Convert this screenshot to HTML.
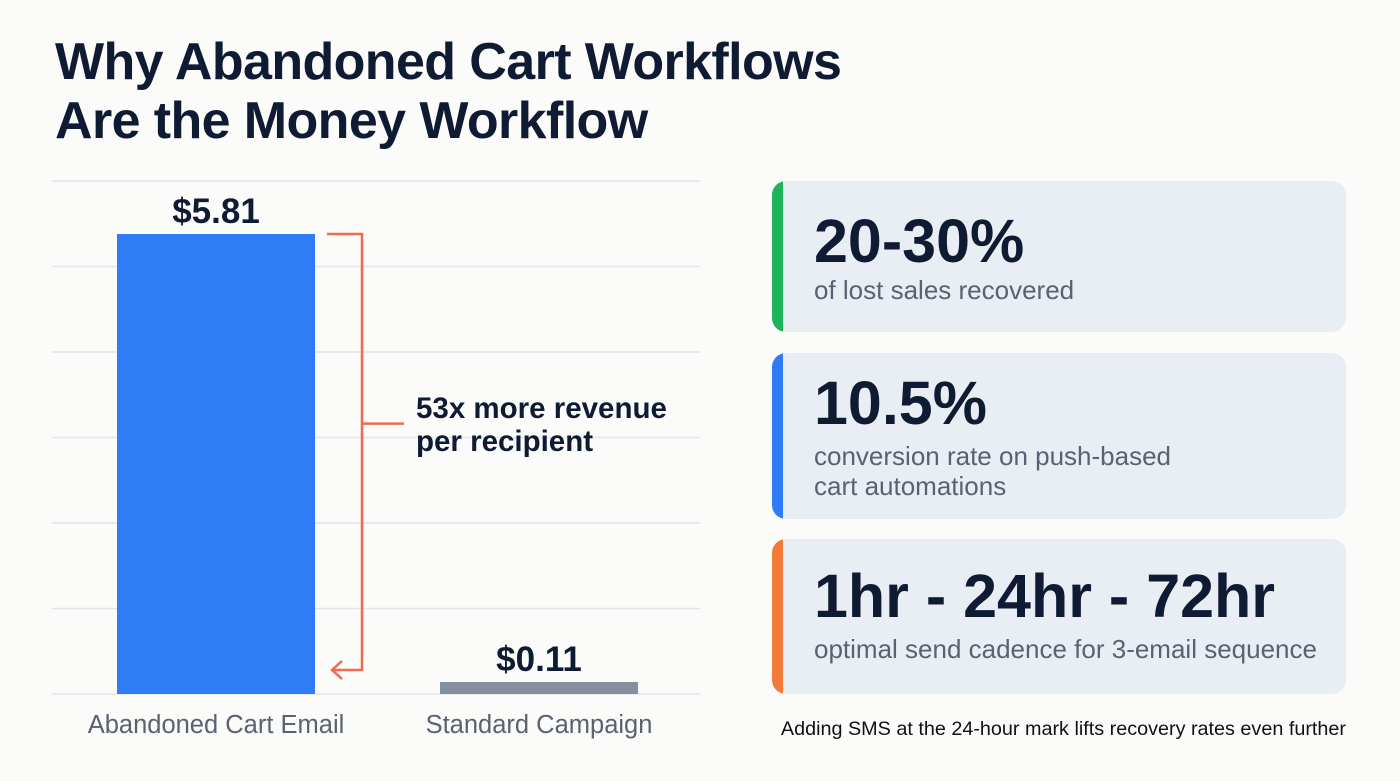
<!DOCTYPE html>
<html><head><meta charset="utf-8"><style>
body{margin:0;width:1400px;height:781px;background:#fbfbfa;font-family:"Liberation Sans",sans-serif;overflow:hidden;position:relative}
h1{position:absolute;left:55px;top:33px;margin:0;font-size:52px;line-height:59px;font-weight:bold;color:#0f1a33;letter-spacing:-0.6px}
.card{position:absolute;left:772px;width:574px;background:#e9edf4;border-radius:14px;overflow:hidden}
.card .stripe{position:absolute;left:0;top:0;bottom:0;width:11px}
.card .big{position:absolute;left:42px;font-size:61px;font-weight:bold;color:#0f1a33;letter-spacing:0px}
.card .sub{position:absolute;left:42px;font-size:26px;color:#5a6170;line-height:30px}
.foot{position:absolute;right:54px;top:718px;font-size:19.8px;color:#111}
</style></head><body>
<h1>Why Abandoned Cart Workflows<br>Are the Money Workflow</h1>
<svg id="chart" width="760" height="781" style="position:absolute;left:0;top:0"></svg>
<div class="card" style="top:181px;height:151px"><div class="stripe" style="background:#1fb35a"></div><div class="big" style="top:25px">20-30%</div><div class="sub" style="top:94px">of lost sales recovered</div></div>
<div class="card" style="top:353px;height:166px"><div class="stripe" style="background:#2f7cf6"></div><div class="big" style="top:15px">10.5%</div><div class="sub" style="top:88px">conversion rate on push-based<br>cart automations</div></div>
<div class="card" style="top:539px;height:155px"><div class="stripe" style="background:#f47a3a"></div><div class="big" style="top:22px">1hr - 24hr - 72hr</div><div class="sub" style="top:95px">optimal send cadence for 3-email sequence</div></div>
<div class="foot">Adding SMS at the 24-hour mark lifts recovery rates even further</div>
<script>
const categories=["Abandoned Cart Email","Standard Campaign"];
const values=[5.81,0.11];
const valueLabels=["$5.81","$0.11"];
const colors=["#2f7cf6","#858fa0"];
const yMax=6.48, gridCount=6;
const NS="http://www.w3.org/2000/svg";
const svg=document.getElementById('chart');
const x0=52,x1=700,yBase=694,yTop=181;
const y=v=>yBase-(v/yMax)*(yBase-yTop);
const bandX=i=>117+i*323, bw=198;
function mk(t,a){const e=document.createElementNS(NS,t);for(const k in a)e.setAttribute(k,a[k]);svg.appendChild(e);return e;}
for(let i=0;i<=gridCount;i++){const gy=y(yMax*i/gridCount);
const g=mk('line',{x1:x0,x2:x1,y1:gy,y2:gy,stroke:'#e3e5ea','stroke-width':1.5});

}
categories.forEach((c,i)=>{
const top=Math.min(y(values[i]),yBase-12);
const r=mk('rect',{x:bandX(i),y:top,width:bw,height:yBase-top,fill:colors[i]});


const t=mk('text',{x:bandX(i)+bw/2,y:top-11,'text-anchor':'middle','font-size':35,'font-weight':'bold',fill:'#0f1a33'});t.textContent=valueLabels[i];


const l=mk('text',{x:bandX(i)+bw/2,y:733,'text-anchor':'middle','font-size':25.5,fill:'#5a6170'});l.textContent=c;


});
const yt=y(values[0]), yb=yBase-24, ym=yt+0.435*(yb-yt);
const br=mk('path',{d:`M327 ${yt} H362 V${yb} H332 M342 ${yb-9} L332 ${yb} L342 ${yb+9} M362 ${ym} H404`,fill:'none',stroke:'#ee6b4d','stroke-width':2.5});


['53x more revenue','per recipient'].forEach((s,i)=>{const t=mk('text',{x:416,y:418+i*33,'font-size':29.5,'font-weight':'bold',fill:'#0f1a33'});t.textContent=s;

});
</script>
</body></html>
